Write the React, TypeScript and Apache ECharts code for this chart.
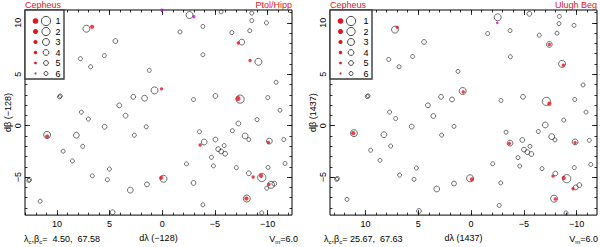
import React, { useEffect, useRef } from "react";
import * as echarts from "echarts";

// ---------- data (x = dλ, y = dβ, m = magnitude class) ----------
const ptolOpen: [number, number, number][] = [
  [7.2, 9.43, 3], [4.45, 8.23, 5], [7.77, 6.52, 6], [5.5, 6.81, 6], [6.8, 5.73, 6],
  [1.23, 5.38, 6], [9.76, 2.8, 6], [9.68, 2.88, 6], [2.75, 2.8, 5], [1.68, 2.67, 4],
  [4.08, 1.97, 5], [7.68, 1.31, 6], [3.48, 0.97, 5], [7.01, 0.64, 6], [-2.59, 10.76, 3],
  [-5.59, 11.07, 6], [-8.5, 10.95, 6], [-8.5, 10.22, 6], [-9.89, 10.0, 6], [-1.68, 9.12, 6],
  [-3.86, 9.65, 6], [-6.61, 9.05, 6], [-8.31, 9.24, 6], [-7.55, 8.13, 4], [-3.86, 6.9, 6],
  [-9.13, 6.21, 3], [-10.81, 4.22, 6], [0.73, 3.43, 3], [-5.05, 2.89, 5], [-2.97, 2.54, 6],
  [-7.39, 2.58, 2], [-10.02, 2.73, 6], [-11.18, 1.5, 6], [-9.0, 0.59, 6], [12.67, -5.33, 6],
  [12.6, -5.25, 6], [10.93, -0.9, 3], [8.15, -0.93, 4], [5.47, -0.11, 5], [1.52, -0.11, 6],
  [2.65, -0.93, 6], [9.41, -2.48, 6], [7.55, -2.01, 6], [8.53, -3.43, 6], [5.02, -4.22, 6],
  [6.64, -4.88, 6], [5.21, -5.26, 6], [1.45, -5.71, 5], [3.03, -6.27, 4], [11.59, -7.35, 6],
  [4.71, -8.42, 5], [-3.54, -0.59, 6], [-3.98, -1.59, 4], [-5.05, -1.35, 5], [-6.66, -0.49, 6],
  [-7.23, 0.21, 5], [-7.87, -1.0, 4], [-8.22, -1.35, 6], [-10.17, -1.5, 4], [-11.54, -1.35, 6],
  [-5.31, -2.29, 5], [-5.59, -2.51, 5], [-5.97, -2.73, 5], [-5.88, -1.94, 6], [-4.67, -3.08, 6],
  [-4.86, -3.91, 6], [-2.3, -3.72, 6], [-7.04, -4.09, 6], [-8.22, -4.63, 5], [-9.45, -5.04, 2],
  [-10.05, -4.06, 6], [-11.66, -3.68, 6], [-0.12, -5.17, 3], [-2.97, -5.57, 5], [-10.64, -5.64, 5],
  [-10.33, -5.76, 3], [-9.92, -6.09, 6], [-8.03, -7.09, 3], [-3.86, -7.7, 6], [-9.45, -8.48, 6],
];
const ptolRed: [number, number, number][] = [
  [6.66, 9.62, 3], [-7.23, 8.04, 4], [-8.34, 6.33, 4], [0.07, 3.58, 4], [-7.2, 2.64, 2],
  [10.93, -1.06, 3], [-3.6, -1.88, 4], [-10.08, -1.63, 4], [-8.63, -5.0, 4], [-9.38, -4.88, 3],
  [0.09, -5.07, 3], [-10.14, -5.71, 4], [-7.99, -7.09, 3],
];
const ptolMagenta: [number, number, number][] = [
  [0.03, 11.23, 4], [-3.0, 10.6, 4],
];

const ulughOpen: [number, number, number][] = [
  [7.2, 9.34, 3], [4.45, 8.14, 5], [7.8, 6.44, 6], [5.53, 6.73, 6], [6.82, 5.73, 6],
  [9.83, 2.83, 6], [9.75, 2.9, 6], [2.84, 2.8, 5], [4.08, 1.98, 5], [7.71, 1.32, 6],
  [3.57, 0.94, 5], [7.14, 0.69, 6], [-2.53, 10.54, 3], [-5.53, 10.88, 5], [-8.37, 10.63, 6],
  [-8.34, 9.93, 6], [-9.76, 9.75, 6], [-1.58, 8.96, 6], [-3.7, 9.25, 6], [-6.47, 8.8, 6],
  [-8.15, 8.99, 6], [-7.42, 7.9, 4], [-3.73, 6.7, 6], [-8.63, 6.01, 3], [1.23, 5.28, 6],
  [-10.62, 3.96, 6], [0.79, 3.37, 3], [1.8, 2.55, 5], [-2.84, 2.45, 6], [-4.93, 2.8, 5],
  [-7.14, 2.36, 2], [-9.83, 2.55, 6], [-10.9, 1.32, 6], [-8.79, 0.54, 6], [11.09, -0.73, 3],
  [8.25, -0.88, 4], [5.62, -0.09, 5], [2.78, -0.92, 6], [9.51, -2.39, 6], [7.61, -1.98, 6],
  [8.63, -3.37, 6], [5.18, -4.12, 6], [6.76, -4.81, 6], [5.4, -5.22, 6], [12.73, -5.22, 6],
  [12.66, -5.14, 6], [3.25, -6.16, 4], [11.75, -7.17, 6], [4.93, -8.3, 5], [1.61, -0.07, 6],
  [-3.32, -0.63, 6], [-3.7, -1.7, 4], [-4.86, -1.39, 5], [-5.02, -2.33, 5], [-5.34, -2.58, 5],
  [-5.72, -2.76, 5], [-5.59, -2.01, 6], [-4.45, -3.11, 6], [-4.62, -3.93, 6], [-2.06, -3.71, 6],
  [-6.38, -0.57, 6], [-7.04, 0.07, 4], [-7.65, -1.07, 4], [-7.96, -1.39, 6], [-9.86, -1.58, 4],
  [-11.21, -1.42, 6], [-11.35, -3.77, 6], [-9.79, -4.08, 6], [-6.73, -4.18, 6], [-7.99, -4.65, 5],
  [-9.07, -5.16, 2], [0.09, -5.12, 3], [-2.82, -5.57, 6], [1.61, -5.63, 5], [-10.27, -5.78, 5],
  [-9.92, -6.01, 5], [-7.87, -7.1, 3], [-2.68, -7.76, 6], [-9.0, -8.49, 6],
];
const ulughRed: [number, number, number][] = [
  [6.99, 9.56, 4], [-7.42, 7.9, 4], [-8.75, 5.88, 4], [0.73, 3.27, 4], [-7.42, 2.14, 3],
  [11.16, -0.73, 3], [-3.63, -1.73, 4], [-9.86, -1.67, 4], [-7.77, -4.91, 4], [-8.79, -5.09, 3],
  [-0.09, -5.22, 3], [-9.67, -6.13, 4], [-7.99, -7.14, 4],
];
const ulughMagenta: [number, number, number][] = [[-2.49, 10.0, 5]];

const legendMags = [1, 2, 3, 4, 5, 6];
const majorTicks = [-10, -5, 0, 5, 10];
const minorTicksX = [-12, -11, -10, -9, -8, -7, -6, -5, -4, -3, -2, -1, 0, 1, 2, 3, 4, 5, 6, 7, 8, 9, 10, 11, 12, 13];
const minorTicksY = [-8, -7, -6, -5, -4, -3, -2, -1, 0, 1, 2, 3, 4, 5, 6, 7, 8, 9, 10, 11];

const leftXRange = [-12.32, 13.03];
const rightXRange = [-11.94, 13.36];
const yRange = [-8.7, 11.25];

// ---------- style ----------
const FONT = "Liberation Sans, Arial, sans-serif";
const RED = "#e3141c";
const MAGENTA = "#c810c8";
const openSize = [0, 9.2, 8.2, 7, 5.8, 4.8, 4];
const redSize = [0, 5.6, 5, 4.2, 3.4, 2.7, 2];

const fmt = (v: number) => String(v).replace("-", "\u2212");

function axesFor(grid: number, r: number[], isX: boolean, name: string) {
  const tickStyle = { color: "#000", width: 0.8 };
  const base = {
    type: "value",
    gridIndex: grid,
    min: r[0],
    max: r[1],
    inverse: isX,
    splitLine: { show: false },
    axisLine: { show: false, onZero: false },
  };
  const p1 = isX ? "bottom" : "left";
  const p2 = isX ? "top" : "right";
  const minor = isX ? minorTicksX : minorTicksY;
  return [
    {
      ...base,
      position: p1,
      axisTick: { show: true, inside: true, length: 5, customValues: majorTicks, lineStyle: tickStyle },
      axisLabel: {
        show: true,
        customValues: majorTicks,
        formatter: fmt,
        fontSize: 9,
        fontFamily: FONT,
        color: "#000",
        margin: isX ? 4 : 3,
        rotate: isX ? 0 : 90,
      },
      name,
      nameLocation: "middle",
      nameGap: isX ? 14 : 12,
      nameRotate: isX ? 0 : 90,
      nameTextStyle: { fontSize: 9, fontFamily: FONT, color: "#000" },
    },
    {
      ...base,
      position: p1,
      axisTick: { show: true, inside: true, length: 2.5, customValues: minor, lineStyle: tickStyle },
      axisLabel: { show: false },
    },
    {
      ...base,
      position: p2,
      axisTick: { show: true, inside: true, length: 5, customValues: majorTicks, lineStyle: tickStyle },
      axisLabel: { show: false },
    },
    {
      ...base,
      position: p2,
      axisTick: { show: true, inside: true, length: 2.5, customValues: minor, lineStyle: tickStyle },
      axisLabel: { show: false },
    },
  ];
}

function seriesFor(idx: number, open: number[][], red: number[][], mag: number[][]) {
  return [
    {
      type: "scatter",
      xAxisIndex: idx,
      yAxisIndex: idx,
      data: open,
      symbol: "circle",
      symbolSize: (v: number[]) => openSize[v[2]],
      itemStyle: { color: "rgba(255,255,255,0)", borderColor: "#1a1a1a", borderWidth: 0.8 },
      silent: true,
    },
    {
      type: "scatter",
      xAxisIndex: idx,
      yAxisIndex: idx,
      data: red,
      symbol: "circle",
      symbolSize: (v: number[]) => redSize[v[2]],
      itemStyle: { color: RED },
      silent: true,
    },
    {
      type: "scatter",
      xAxisIndex: idx,
      yAxisIndex: idx,
      data: mag,
      symbol: "circle",
      symbolSize: (v: number[]) => redSize[v[2]],
      itemStyle: { color: MAGENTA },
      silent: true,
    },
  ];
}

function legendGraphic(left: number, width: number) {
  const els: any[] = [
    {
      type: "rect",
      shape: { x: left, y: 10, width, height: 69 },
      style: { fill: "#fff", stroke: "#3a3a3a", lineWidth: 1.4 },
      z: 10,
    },
  ];
  legendMags.forEach((m, i) => {
    const cy = 21 + i * 10.5;
    els.push({ type: "circle", shape: { cx: left + 10.5, cy, r: redSize[m] / 2 }, style: { fill: RED }, z: 11 });
    els.push({
      type: "circle",
      shape: { cx: left + 21, cy, r: openSize[m] / 2 },
      style: { fill: "none", stroke: "#1a1a1a", lineWidth: 0.8 },
      z: 11,
    });
    els.push({
      type: "text",
      x: left + width - 6,
      y: cy,
      style: { text: String(m), fontSize: 9, fontFamily: FONT, fill: "#000", align: "center", verticalAlign: "middle" },
      z: 11,
    });
  });
  return els;
}

function textEl(x: number, y: number, text: string, align: string, fill = "#000", rich?: any) {
  return {
    type: "text",
    x,
    y,
    style: {
      text,
      fontSize: 9,
      fontFamily: FONT,
      fill,
      align,
      verticalAlign: "middle",
      lineHeight: 12,
      rich,
    },
    z: 12,
  };
}

const subRich = {
  s: { fontSize: 6, fontFamily: FONT, lineHeight: 6, verticalAlign: "bottom", fill: "#000" },
};

export default function App() {
  const ref = useRef<HTMLDivElement>(null);
  useEffect(() => {
    const chart = echarts.init(ref.current!, null, { renderer: "svg" });
    const option: any = {
      animation: false,
      backgroundColor: "#fff",
      grid: [
        { left: 25, top: 10, width: 267, height: 212, show: true, borderColor: "#000", borderWidth: 1, backgroundColor: "transparent" },
        { left: 330, top: 10, width: 267, height: 212, show: true, borderColor: "#000", borderWidth: 1, backgroundColor: "transparent" },
      ],
      xAxis: [
        ...axesFor(0, leftXRange, true, "d\u03bb (\u2212128)"),
        ...axesFor(1, rightXRange, true, "d\u03bb (1437)"),
      ],
      yAxis: [
        ...axesFor(0, yRange, false, "d\u03b2 (\u2212128)"),
        ...axesFor(1, yRange, false, "d\u03b2 (1437)"),
      ],
      series: [
        ...seriesFor(0, ptolOpen, ptolRed, ptolMagenta),
        ...seriesFor(4, ulughOpen, ulughRed, ulughMagenta),
      ],
      graphic: [
        ...legendGraphic(25, 39),
        ...legendGraphic(330, 42),
        textEl(25, 4.5, "Cepheus", "left", RED),
        textEl(292, 4.5, "Ptol/Hipp", "right", RED),
        textEl(330, 4.5, "Cepheus", "left", RED),
        textEl(597, 4.5, "Ulugh Beg", "right", RED),
        textEl(24, 239, "\u03bb{s|c},\u03b2{s|c}=  4.50,  67.58", "left", "#000", subRich),
        textEl(298, 239, "V{s|m}=6.0", "right", "#000", subRich),
        textEl(324, 239, "\u03bb{s|c},\u03b2{s|c}= 25.67,  67.63", "left", "#000", subRich),
        textEl(598, 239, "V{s|m}=6.0", "right", "#000", subRich),
      ],
    };
    chart.setOption(option);
    return () => chart.dispose();
  }, []);
  return (
    <div
      ref={ref}
      style={{ position: "fixed", left: 0, top: 0, width: 600, height: 247, background: "#fff" }}
    />
  );
}
